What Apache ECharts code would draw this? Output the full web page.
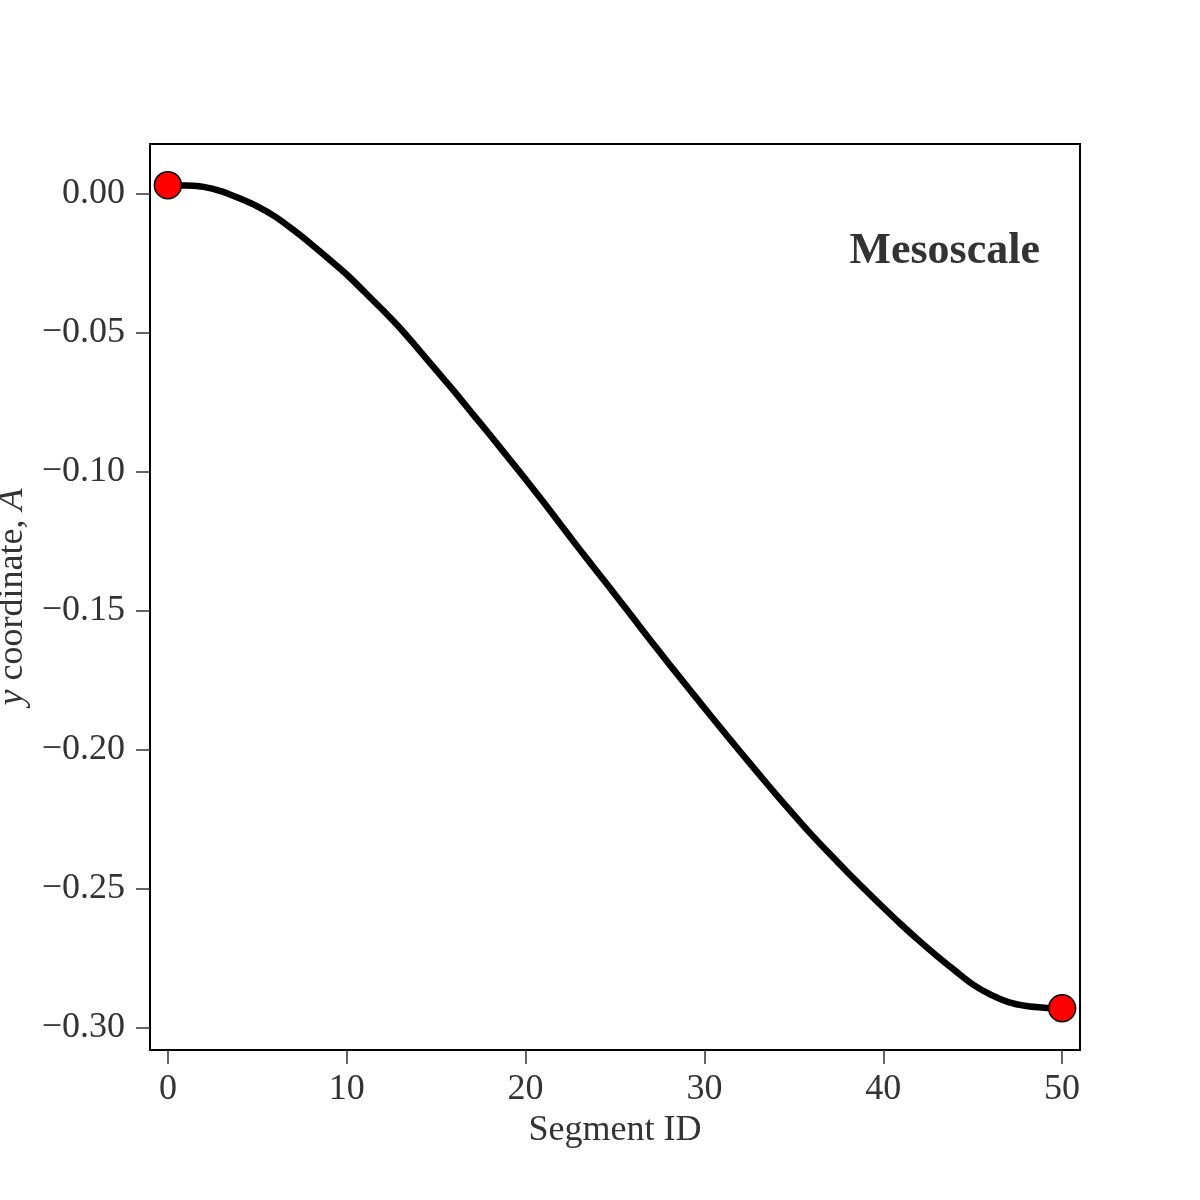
<!DOCTYPE html>
<html>
<head>
<meta charset="utf-8">
<script src="https://cdn.jsdelivr.net/npm/echarts@6/dist/echarts.min.js"></script>
<style>
  html, body { margin: 0; padding: 0; background: #fff; }
  #chart { width: 1200px; height: 1200px; }
</style>
</head>
<body>
<div id="chart"></div>
<script>
// segment index along the mesoscale chain
const segments = [
  0, 1, 2, 3, 4, 5, 6, 7, 8, 9,
  10, 11, 12, 13, 14, 15, 16, 17, 18, 19,
  20, 21, 22, 23, 24, 25, 26, 27, 28, 29,
  30, 31, 32, 33, 34, 35, 36, 37, 38, 39,
  40, 41, 42, 43, 44, 45, 46, 47, 48, 49, 50
];
// y coordinate
const yCoord = [
  0.0029, 0.0028, 0.0023, 0.0007, -0.0018, -0.0047, -0.0084, -0.0131, -0.0182, -0.0236,
  -0.0292, -0.0355, -0.0419, -0.0486, -0.0560, -0.0636, -0.0711, -0.0790, -0.0868, -0.0948,
  -0.1028, -0.1110, -0.1194, -0.1278, -0.1360, -0.1442, -0.1525, -0.1608, -0.1690, -0.1770,
  -0.1850, -0.1929, -0.2007, -0.2084, -0.2160, -0.2234, -0.2306, -0.2374, -0.2440, -0.2504,
  -0.2567, -0.2628, -0.2686, -0.2741, -0.2793, -0.2843, -0.2880, -0.2907, -0.2921, -0.2927, -0.2929
];
const xTicks = [0, 10, 20, 30, 40, 50];
const yTicks = [0, -0.05, -0.10, -0.15, -0.20, -0.25, -0.30];

const FONT = '"Liberation Serif", "DejaVu Serif", serif';
const TEXT = '#333333';

const chart = echarts.init(document.getElementById('chart'));

const lineData = segments.map((s, i) => [s, yCoord[i]]);
const last = segments.length - 1;

const option = {
  backgroundColor: '#ffffff',
  animation: false,
  grid: {
    left: 150,
    right: 120,
    top: 144,
    bottom: 150,
    containLabel: false,
    outerBoundsMode: 'none',
    show: true,
    borderColor: '#000000',
    borderWidth: 2,
    backgroundColor: 'transparent',
  },
  title: {
    text: 'Mesoscale',
    right: 160,
    top: 230,
    padding: 0,
    textStyle: {
      fontFamily: FONT,
      fontWeight: 'bold',
      fontSize: 44,
      color: TEXT,
    },
  },
  xAxis: {
    type: 'value',
    min: -1,
    max: 51,
    name: 'Segment ID',
    nameLocation: 'middle',
    nameGap: 62,
    nameTextStyle: { fontFamily: FONT, fontSize: 36, color: TEXT },
    axisLine: { show: true, onZero: false, lineStyle: { color: '#000000', width: 2 } },
    axisTick: {
      show: true,
      inside: false,
      length: 14,
      customValues: xTicks,
      lineStyle: { color: '#333333', width: 1.5 },
    },
    axisLabel: {
      customValues: xTicks,
      margin: 22,
      fontFamily: FONT,
      fontSize: 36,
      color: TEXT,
    },
    splitLine: { show: false },
  },
  yAxis: {
    type: 'value',
    min: -0.3079,
    max: 0.0177,
    name: '{it|y} coordinate, {it|A}',
    nameLocation: 'middle',
    nameGap: 114,
    nameTextStyle: {
      fontFamily: FONT,
      fontSize: 36,
      color: TEXT,
      rich: {
        it: { fontFamily: FONT, fontSize: 36, fontStyle: 'italic', color: TEXT },
      },
    },
    axisLine: { show: true, onZero: false, lineStyle: { color: '#000000', width: 2 } },
    axisTick: {
      show: true,
      inside: false,
      length: 14,
      customValues: yTicks,
      lineStyle: { color: '#333333', width: 1.5 },
    },
    axisLabel: {
      customValues: yTicks,
      margin: 25,
      fontFamily: FONT,
      fontSize: 36,
      color: TEXT,
      formatter: (v) => {
        const s = Math.abs(v).toFixed(2);
        return v < -1e-9 ? '\u2212' + s : s;
      },
    },
    splitLine: { show: false },
  },
  series: [
    {
      name: 'chain',
      type: 'line',
      data: lineData,
      showSymbol: false,
      smooth: 0.3,
      lineStyle: { color: '#000000', width: 6.5, cap: 'round', join: 'round' },
      z: 2,
    },
    {
      name: 'ends',
      type: 'scatter',
      data: [lineData[0], lineData[last]],
      symbol: 'circle',
      symbolSize: 27,
      itemStyle: { color: '#ff0000', opacity: 1, borderColor: '#000000', borderWidth: 1.5 },
      z: 3,
    },
  ],
};

chart.setOption(option);
</script>
</body>
</html>
